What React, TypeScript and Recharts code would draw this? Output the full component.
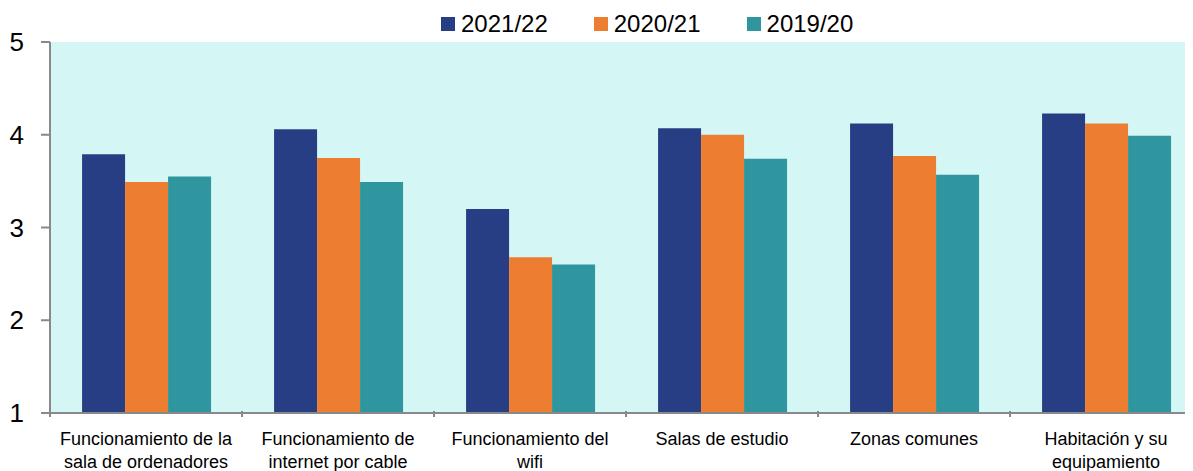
import React from 'react';
import { BarChart, Bar, XAxis, YAxis, CartesianGrid } from 'recharts';

const categories = [
  'Funcionamiento de la\nsala de ordenadores',
  'Funcionamiento de\ninternet por cable',
  'Funcionamiento del\nwifi',
  'Salas de estudio',
  'Zonas comunes',
  'Habitación y su\nequipamiento',
];
const seriesNames = ['2021/22', '2020/21', '2019/20'];
const values2122 = [3.79, 4.06, 3.2, 4.07, 4.12, 4.23];
const values2021 = [3.49, 3.75, 2.68, 4.0, 3.77, 4.12];
const values1920 = [3.55, 3.49, 2.6, 3.74, 3.57, 3.99];
const yTicks = [1, 2, 3, 4, 5];

const colors = ['#283E84', '#ED7D31', '#2F959E'];
const FONT = '"Liberation Sans", Arial, sans-serif';
const CAT_W = 192;

const data = categories.map((c, i) => ({
  name: c,
  s0: values2122[i],
  s1: values2021[i],
  s2: values1920[i],
}));

const XTick = (props: any) => {
  const { x, y, payload, index } = props;
  const lines = String(payload.value).split('\n');
  return (
    <g>
      <line x1={x - CAT_W / 2} x2={x - CAT_W / 2} y1={y - 8} y2={y - 2} stroke="#898989" strokeWidth={2} />
      {index === categories.length - 1 && (
        <line x1={x + CAT_W / 2} x2={x + CAT_W / 2} y1={y - 8} y2={y - 2} stroke="#898989" strokeWidth={2} />
      )}
      <text x={x} y={y} textAnchor="middle" fontFamily={FONT} fontSize={18} fill="#000">
        {lines.map((l, i) => (
          <tspan key={i} x={x} y={y + 26 + i * 23}>
            {l}
          </tspan>
        ))}
      </text>
    </g>
  );
};

export default function App() {
  return (
    <div style={{ position: 'relative', width: 1185, height: 463, overflow: 'hidden' }}>
      <div
        style={{
          position: 'absolute',
          left: 433,
          top: 2,
          display: 'flex',
          alignItems: 'center',
          fontFamily: FONT,
          fontSize: 24,
          color: '#000',
          zIndex: 2,
        }}
      >
        {seriesNames.map((n, i) => (
          <div key={n} style={{ display: 'flex', alignItems: 'center', marginRight: 46 }}>
            <div style={{ width: 14, height: 14, background: colors[i], marginRight: 6 }} />
            <span>{n}</span>
          </div>
        ))}
      </div>
      <BarChart
        width={1194}
        height={463}
        data={data}
        margin={{ top: 34, right: 0, bottom: 0, left: 0 }}
        barGap={0}
        barCategoryGap="16.7%"
      >
        <CartesianGrid fill="#D4F6F5" horizontal={false} vertical={false} stroke="none" />
        <XAxis
          dataKey="name"
          height={58}
          axisLine={{ stroke: '#898989', strokeWidth: 2 }}
          tickLine={false}
          tick={<XTick />}
          interval={0}
          tickMargin={0}
        />
        <YAxis
          width={42}
          domain={[1, 5]}
          ticks={yTicks}
          interval={0}
          axisLine={{ stroke: '#898989', strokeWidth: 2 }}
          tickLine={{ stroke: '#898989', strokeWidth: 2 }}
          tickSize={9}
          tickMargin={17}
          tick={{ fontFamily: FONT, fontSize: 26, fill: '#000' }}
        />
        <Bar dataKey="s0" name={seriesNames[0]} fill={colors[0]} isAnimationActive={false} />
        <Bar dataKey="s1" name={seriesNames[1]} fill={colors[1]} isAnimationActive={false} />
        <Bar dataKey="s2" name={seriesNames[2]} fill={colors[2]} isAnimationActive={false} />
      </BarChart>
    </div>
  );
}
